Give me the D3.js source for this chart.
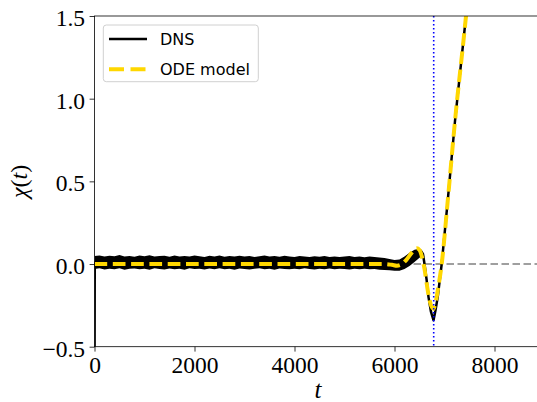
<!DOCTYPE html>
<html><head><meta charset="utf-8">
<script src="https://cdn.jsdelivr.net/npm/d3@7"></script>
<style>
body{margin:0;background:#fff;}
svg{display:block;}
</style></head>
<body><svg id="c" width="537" height="402"></svg>
<script>
// ---------- data ----------
const xTicks = [0, 2000, 4000, 6000, 8000];
const yTicks = [-0.5, 0.0, 0.5, 1.0, 1.5];
const xDomain = [0, 8940];
const yDomain = [-0.5, 1.5];

// DNS noisy band (envelope) sampled every 100 in t up to 6000, then a few more
const bandT = [];
for (let t = 0; t <= 6000; t += 100) bandT.push(t);
bandT.push(6100, 6200, 6300, 6400, 6500, 6550);
const bandHi = [
 0.048,0.052,0.045,0.050,0.047,0.054,0.046,0.049,0.044,0.051,
 0.047,0.053,0.045,0.048,0.050,0.044,0.052,0.046,0.049,0.045,
 0.051,0.047,0.043,0.050,0.046,0.052,0.044,0.048,0.045,0.050,
 0.046,0.049,0.043,0.047,0.051,0.045,0.048,0.044,0.050,0.046,
 0.043,0.048,0.045,0.042,0.047,0.044,0.049,0.043,0.046,0.042,
 0.045,0.048,0.043,0.046,0.041,0.045,0.043,0.040,0.036,0.030,
 0.024,
 0.028,0.045,0.068,0.086,0.092,0.085];
const bandLo = [
 -0.030,-0.026,-0.033,-0.028,-0.031,-0.025,-0.034,-0.029,-0.027,-0.032,
 -0.028,-0.035,-0.026,-0.030,-0.033,-0.027,-0.031,-0.029,-0.034,-0.026,
 -0.030,-0.028,-0.033,-0.027,-0.031,-0.025,-0.032,-0.029,-0.035,-0.027,
 -0.030,-0.033,-0.028,-0.026,-0.031,-0.029,-0.034,-0.027,-0.030,-0.032,
 -0.028,-0.031,-0.026,-0.030,-0.033,-0.028,-0.031,-0.027,-0.032,-0.029,
 -0.030,-0.033,-0.028,-0.031,-0.029,-0.032,-0.030,-0.034,-0.036,-0.038,
 -0.040,
 -0.040,-0.030,-0.012,0.012,0.038,0.050];

// DNS main trace
const dnsT   = [0, 5, 5800, 5900, 6000, 6100, 6200, 6300, 6400, 6500, 6540, 6570, 6600, 6640, 6680, 6730, 6780, 6820, 6864, 6944, 7064, 7210, 7430, 7600];
const dnsChi = [-1.0, 0.01, 0.008, 0.0, -0.01, -0.008, 0.008, 0.03, 0.055, 0.072, 0.075, 0.06, 0.0, -0.09, -0.2, -0.29, -0.34, -0.28, -0.2, 0.0, 0.38, 0.865, 1.5, 2.05];

// ODE model trace
const odeT   = [0, 5800, 5950, 6050, 6150, 6250, 6350, 6444, 6500, 6560, 6600, 6660, 6720, 6778, 6830, 6870, 6944, 7064, 7210, 7430, 7600];
const odeChi = [0.0, 0.0, -0.005, -0.01, 0.0, 0.03, 0.07, 0.095, 0.085, 0.03, -0.03, -0.15, -0.24, -0.27, -0.22, -0.15, 0.0, 0.38, 0.865, 1.5, 2.05];

const tMarker = 6784;
const legendLabels = ["DNS", "ODE model"];

// ---------- layout ----------
const SERIF = '"Liberation Serif"';
const SANS = '"DejaVu Sans"';
const L = 94.5, T = 16, R = 541.5, B = 346.7;
const svg = d3.select("#c");
const x = d3.scaleLinear().domain(xDomain).range([L, R]);
const y = d3.scaleLinear().domain(yDomain).range([B, T]);

svg.append("defs").append("clipPath").attr("id", "clip")
  .append("rect").attr("x", L).attr("y", T).attr("width", R - L).attr("height", B - T);

const plot = svg.append("g").attr("clip-path", "url(#clip)");

// zero reference line
plot.append("line")
  .attr("x1", x(xDomain[0])).attr("x2", x(xDomain[1]))
  .attr("y1", y(0)).attr("y2", y(0))
  .attr("stroke", "#808080").attr("stroke-width", 1.6)
  .attr("stroke-dasharray", "7.5,3.5");

// DNS band
const band = bandT.map((t, i) => ({t, hi: bandHi[i], lo: bandLo[i]}));
plot.append("path").datum(band)
  .attr("d", d3.area().x(d => x(d.t)).y0(d => y(d.lo)).y1(d => y(d.hi)))
  .attr("fill", "#000");

// DNS line
const dns = dnsT.map((t, i) => ({t, v: dnsChi[i]}));
const line = d3.line().x(d => x(d.t)).y(d => y(d.v));
plot.append("path").datum(dns).attr("d", line)
  .attr("fill", "none").attr("stroke", "#000").attr("stroke-width", 2.5)
  .attr("stroke-linejoin", "round");

// ODE line
const ode = odeT.map((t, i) => ({t, v: odeChi[i]}));
plot.append("path").datum(ode).attr("d", d3.line().x(d => x(d.t)).y(d => y(d.v)).curve(d3.curveMonotoneX))
  .attr("fill", "none").attr("stroke", "#FFD700").attr("stroke-width", 4)
  .attr("stroke-dasharray", "12.7,5.6");

// vertical marker
plot.append("line")
  .attr("x1", x(tMarker)).attr("x2", x(tMarker))
  .attr("y1", T).attr("y2", B)
  .attr("stroke", "#0000ff").attr("stroke-width", 1.6)
  .attr("stroke-dasharray", "1.6,2.4");

// spines
svg.append("rect").attr("x", L).attr("y", T).attr("width", R - L).attr("height", B - T)
  .attr("fill", "none").attr("stroke", "#000").attr("stroke-width", 0.8);

// axes
const xAxis = svg.append("g").attr("transform", `translate(0,${B})`)
  .call(d3.axisBottom(x).tickValues(xTicks).tickSize(4.9).tickPadding(3).tickFormat(d3.format("d")));
const yAxis = svg.append("g").attr("transform", `translate(${L},0)`)
  .call(d3.axisLeft(y).tickValues(yTicks).tickSize(4.9).tickPadding(4.5)
    .tickFormat(d => (d < 0 ? "\u2212" : "") + Math.abs(d).toFixed(1)));
for (const a of [xAxis, yAxis]) {
  a.attr("font-family", SERIF).attr("font-size", 23.5);
  a.select(".domain").remove();
  a.selectAll(".tick line").attr("stroke", "#000").attr("stroke-width", 0.8);
  a.selectAll(".tick text").attr("fill", "#000")
    .style("font-family", SERIF).style("font-size", "23.5px");
}
xAxis.selectAll(".tick text").attr("dy", null).attr("y", 26.6);
yAxis.selectAll(".tick text").attr("dy", null).attr("y", 9.5);

// axis labels
svg.append("text").attr("x", (L + R) / 2).attr("y", 398)
  .attr("text-anchor", "middle")
  .style("font-family", SERIF).style("font-size", "25px").style("font-style", "italic")
  .text("t");
const yl = svg.append("text")
  .attr("transform", `translate(27,${(T + B) / 2}) rotate(-90)`)
  .attr("text-anchor", "middle")
  .style("font-family", SERIF).style("font-size", "24px");
yl.append("tspan").style("font-style", "italic").text("χ");
yl.append("tspan").text("(");
yl.append("tspan").style("font-style", "italic").text("t");
yl.append("tspan").text(")");

// legend
const lg = svg.append("g");
lg.append("rect").attr("x", 103.3).attr("y", 25).attr("width", 155).attr("height", 56.7)
  .attr("rx", 3).attr("fill", "#fff").attr("fill-opacity", 0.8)
  .attr("stroke", "#d0d0d0").attr("stroke-width", 1);
lg.append("line").attr("x1", 109).attr("x2", 147).attr("y1", 39).attr("y2", 39)
  .attr("stroke", "#000").attr("stroke-width", 2.5);
lg.append("line").attr("x1", 109).attr("x2", 147).attr("y1", 69.3).attr("y2", 69.3)
  .attr("stroke", "#FFD700").attr("stroke-width", 4).attr("stroke-dasharray", "15,6.5");
lg.selectAll("text.lt").data(legendLabels).enter().append("text")
  .attr("x", 160).attr("y", (d, i) => i === 0 ? 44.8 : 75)
  .style("font-family", SANS).style("font-size", "16px").attr("fill", "#000")
  .text(d => d);
</script></body></html>
